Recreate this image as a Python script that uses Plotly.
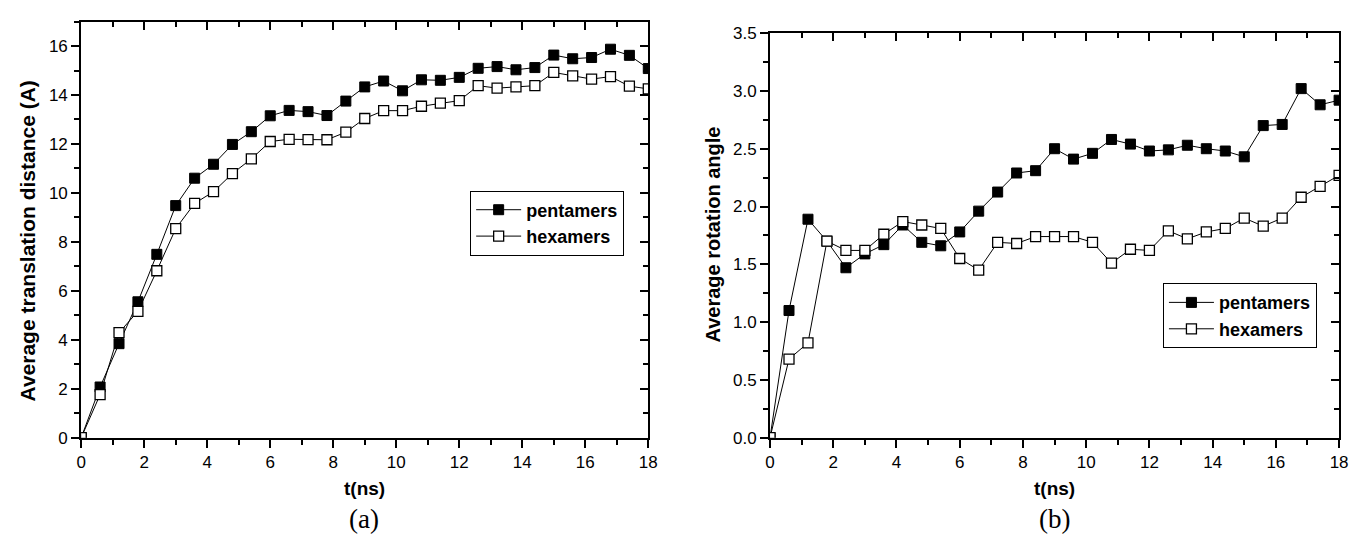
import plotly.graph_objects as go

# time points (ns)
t = [0, 0.6, 1.2, 1.8, 2.4, 3.0, 3.6, 4.2, 4.8, 5.4, 6.0, 6.6, 7.2, 7.8, 8.4, 9.0,
     9.6, 10.2, 10.8, 11.4, 12.0, 12.6, 13.2, 13.8, 14.4, 15.0, 15.6, 16.2, 16.8, 17.4, 18.0]

# (a) average translation distance
trans_pent = [0, 2.07, 3.84, 5.55, 7.49, 9.48, 10.6, 11.17, 11.98, 12.5, 13.15, 13.37, 13.32, 13.16, 13.75, 14.33,
              14.57, 14.17, 14.62, 14.6, 14.72, 15.09, 15.16, 15.03, 15.12, 15.63, 15.48, 15.53, 15.87, 15.62, 15.08]
trans_hex = [0, 1.76, 4.29, 5.16, 6.82, 8.54, 9.57, 10.05, 10.79, 11.39, 12.1, 12.19, 12.18, 12.17, 12.48, 13.04,
             13.36, 13.36, 13.54, 13.67, 13.77, 14.38, 14.28, 14.33, 14.38, 14.92, 14.78, 14.65, 14.75, 14.36, 14.25]

# (b) average rotation angle
rot_pent = [0, 1.10, 1.89, 1.70, 1.47, 1.59, 1.67, 1.84, 1.69, 1.66, 1.78, 1.96, 2.125, 2.29, 2.31, 2.50,
            2.41, 2.46, 2.58, 2.54, 2.48, 2.49, 2.53, 2.50, 2.48, 2.43, 2.70, 2.71, 3.02, 2.88, 2.92]
rot_hex = [0, 0.68, 0.82, 1.70, 1.62, 1.62, 1.76, 1.87, 1.84, 1.81, 1.55, 1.45, 1.69, 1.68, 1.74, 1.74,
           1.74, 1.69, 1.51, 1.63, 1.62, 1.79, 1.72, 1.78, 1.81, 1.90, 1.83, 1.90, 2.08, 2.175, 2.27]

series_names = ["pentamers", "hexamers"]
x_ticks = [0, 2, 4, 6, 8, 10, 12, 14, 16, 18]

FONT = "Arial, 'Liberation Sans', sans-serif"
SERIF = "'Times New Roman', 'Liberation Serif', serif"
W, H = 1358, 550

fig = go.Figure()

def add_pair(xa, ya, ypent, yhex, legend):
    fig.add_trace(go.Scatter(x=t, y=ypent, name=series_names[0], mode="lines+markers",
                             xaxis=xa, yaxis=ya, legend=legend,
                             line=dict(color="black", width=1),
                             marker=dict(symbol="square", size=10, color="black",
                                         line=dict(color="black", width=1))))
    fig.add_trace(go.Scatter(x=t, y=yhex, name=series_names[1], mode="lines+markers",
                             xaxis=xa, yaxis=ya, legend=legend,
                             line=dict(color="black", width=1),
                             marker=dict(symbol="square", size=10, color="white",
                                         line=dict(color="black", width=1.3))))

add_pair("x", "y", trans_pent, trans_hex, "legend")
add_pair("x2", "y2", rot_pent, rot_hex, "legend2")

# invisible traces to carry the mirrored (inside) tick axes
for xa, ya in [("x3", "y3"), ("x4", "y4")]:
    fig.add_trace(go.Scatter(x=[None], y=[None], xaxis=xa, yaxis=ya, showlegend=False,
                             hoverinfo="skip"))

dom_a = [77 / W, 650 / W]
dom_b = [773 / W, 1348 / W]
ydom_a = [1 - 444 / H, 1 - 13 / H]
ydom_b = [1 - 444 / H, 1 - 25 / H]

tickfont = dict(family=FONT, size=17, color="black")

def xaxis(dom, anchor, labels=True, side="bottom", ticks="outside", overlaying=None):
    d = dict(domain=dom, anchor=anchor, range=[0, 18], tickvals=x_ticks,
             ticks=ticks, ticklen=8, tickwidth=2, tickcolor="black",
             showline=True, linewidth=2, linecolor="black", showgrid=False, zeroline=False,
             showticklabels=labels, tickfont=tickfont, side=side,
             minor=dict(dtick=1, tick0=0, ticks=ticks, ticklen=5, tickwidth=1.5, tickcolor="black",
                        showgrid=False))
    if overlaying:
        d["overlaying"] = overlaying
    return d

def yaxis(dom, anchor, rng, dtick, minor, fmt, labels=True, side="left", ticks="outside",
          overlaying=None):
    d = dict(domain=dom, anchor=anchor, range=rng, dtick=dtick, tick0=0,
             ticks=ticks, ticklen=8, tickwidth=2, tickcolor="black",
             showline=True, linewidth=2, linecolor="black", showgrid=False, zeroline=False,
             showticklabels=labels, tickfont=tickfont, side=side, tickformat=fmt,
             minor=dict(dtick=minor, tick0=0, ticks=ticks, ticklen=5, tickwidth=1.5,
                        tickcolor="black", showgrid=False))
    if overlaying:
        d["overlaying"] = overlaying
    return d

legfont = dict(family=FONT, size=18, color="black", weight="bold")

fig.update_layout(
    width=W, height=H,
    margin=dict(l=0, r=0, t=0, b=0),
    paper_bgcolor="white", plot_bgcolor="white",
    font=dict(family=FONT, color="black"),
    xaxis=xaxis(dom_a, "y"),
    yaxis=yaxis(ydom_a, "x", [0, 17], 2, 1, "d"),
    xaxis2=xaxis(dom_b, "y2"),
    yaxis2=yaxis(ydom_b, "x2", [0, 3.5], 0.5, 0.25, ".1f"),
    xaxis3=xaxis(dom_a, "y", labels=False, side="top", ticks="inside", overlaying="x"),
    yaxis3=yaxis(ydom_a, "x", [0, 17], 2, 1, "d", labels=False, side="right", ticks="inside",
                 overlaying="y"),
    xaxis4=xaxis(dom_b, "y2", labels=False, side="top", ticks="inside", overlaying="x2"),
    yaxis4=yaxis(ydom_b, "x2", [0, 3.5], 0.5, 0.25, ".1f", labels=False, side="right",
                 ticks="inside", overlaying="y2"),
    legend=dict(x=470 / W, y=1 - 188 / H, xanchor="left", yanchor="top",
                bordercolor="black", borderwidth=1, bgcolor="white",
                font=legfont, tracegroupgap=0, itemwidth=45),
    legend2=dict(x=1170 / W, y=1 - 284 / H, xanchor="left", yanchor="top",
                 bordercolor="black", borderwidth=1, bgcolor="white",
                 font=legfont, tracegroupgap=0, itemwidth=45),
    showlegend=True,
)

ann = []
ann.append(dict(text="Average translation distance (A)", x=23 / W, y=1 - 240 / H, textangle=-90,
                font=dict(family=FONT, size=21, color="black", weight="bold")))
ann.append(dict(text="Average rotation angle", x=715 / W, y=1 - 234 / H, textangle=-90,
                font=dict(family=FONT, size=20, color="black", weight="bold")))
ann.append(dict(text="t(ns)", x=363 / W, y=1 - 497 / H,
                font=dict(family=FONT, size=19, color="black", weight="bold")))
ann.append(dict(text="t(ns)", x=1060 / W, y=1 - 497 / H,
                font=dict(family=FONT, size=19, color="black", weight="bold")))
ann.append(dict(text="(a)", x=363 / W, y=1 - 528 / H,
                font=dict(family=SERIF, size=27, color="black")))
ann.append(dict(text="(b)", x=1060 / W, y=1 - 528 / H,
                font=dict(family=SERIF, size=27, color="black")))
for a in ann:
    a.update(xref="paper", yref="paper", showarrow=False, xanchor="center", yanchor="middle")
fig.update_layout(annotations=ann)

fig.write_html("out.html")
